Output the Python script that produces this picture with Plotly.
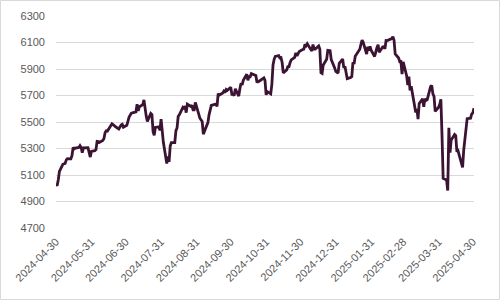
import plotly.graph_objects as go

dates = [
"2024-04-30",
"2024-05-01","2024-05-02","2024-05-03","2024-05-06","2024-05-07","2024-05-08","2024-05-09","2024-05-10","2024-05-13","2024-05-14","2024-05-15","2024-05-16","2024-05-17","2024-05-20","2024-05-21","2024-05-22","2024-05-23","2024-05-24","2024-05-28","2024-05-29","2024-05-30","2024-05-31",
"2024-06-03","2024-06-04","2024-06-05","2024-06-06","2024-06-07","2024-06-10","2024-06-11","2024-06-12","2024-06-13","2024-06-14","2024-06-17","2024-06-18","2024-06-20","2024-06-21","2024-06-24","2024-06-25","2024-06-26","2024-06-27","2024-06-28",
"2024-07-01","2024-07-02","2024-07-03","2024-07-05","2024-07-08","2024-07-09","2024-07-10","2024-07-11","2024-07-12","2024-07-15","2024-07-16","2024-07-17","2024-07-18","2024-07-19","2024-07-22","2024-07-23","2024-07-24","2024-07-25","2024-07-26","2024-07-29","2024-07-30","2024-07-31",
"2024-08-01","2024-08-02","2024-08-05","2024-08-06","2024-08-07","2024-08-08","2024-08-09","2024-08-12","2024-08-13","2024-08-14","2024-08-15","2024-08-16","2024-08-19","2024-08-20","2024-08-21","2024-08-22","2024-08-23","2024-08-26","2024-08-27","2024-08-28","2024-08-29","2024-08-30",
"2024-09-03","2024-09-04","2024-09-05","2024-09-06","2024-09-09","2024-09-10","2024-09-11","2024-09-12","2024-09-13","2024-09-16","2024-09-17","2024-09-18","2024-09-19","2024-09-20","2024-09-23","2024-09-24","2024-09-25","2024-09-26","2024-09-27","2024-09-30",
"2024-10-01","2024-10-02","2024-10-03","2024-10-04","2024-10-07","2024-10-08","2024-10-09","2024-10-10","2024-10-11","2024-10-14","2024-10-15","2024-10-16","2024-10-17","2024-10-18","2024-10-21","2024-10-22","2024-10-23","2024-10-24","2024-10-25","2024-10-28","2024-10-29","2024-10-30","2024-10-31",
"2024-11-01","2024-11-04","2024-11-05","2024-11-06","2024-11-07","2024-11-08","2024-11-11","2024-11-12","2024-11-13","2024-11-14","2024-11-15","2024-11-18","2024-11-19","2024-11-20","2024-11-21","2024-11-22","2024-11-25","2024-11-26","2024-11-27","2024-11-29",
"2024-12-02","2024-12-03","2024-12-04","2024-12-05","2024-12-06","2024-12-09","2024-12-10","2024-12-11","2024-12-12","2024-12-13","2024-12-16","2024-12-17","2024-12-18","2024-12-19","2024-12-20","2024-12-23","2024-12-24","2024-12-26","2024-12-27","2024-12-30","2024-12-31",
"2025-01-02","2025-01-03","2025-01-06","2025-01-07","2025-01-08","2025-01-10","2025-01-13","2025-01-14","2025-01-15","2025-01-16","2025-01-17","2025-01-21","2025-01-22","2025-01-23","2025-01-24","2025-01-27","2025-01-28","2025-01-29","2025-01-30","2025-01-31",
"2025-02-03","2025-02-04","2025-02-05","2025-02-06","2025-02-07","2025-02-10","2025-02-11","2025-02-12","2025-02-13","2025-02-14","2025-02-18","2025-02-19","2025-02-20","2025-02-21","2025-02-24","2025-02-25","2025-02-26","2025-02-27","2025-02-28",
"2025-03-03","2025-03-04","2025-03-05","2025-03-06","2025-03-07","2025-03-10","2025-03-11","2025-03-12","2025-03-13","2025-03-14","2025-03-17","2025-03-18","2025-03-19","2025-03-20","2025-03-21","2025-03-24","2025-03-25","2025-03-26","2025-03-27","2025-03-28","2025-03-31",
"2025-04-01","2025-04-02","2025-04-03","2025-04-04","2025-04-07","2025-04-08","2025-04-09","2025-04-10","2025-04-11","2025-04-14","2025-04-15","2025-04-16","2025-04-17","2025-04-21","2025-04-22","2025-04-23","2025-04-24","2025-04-25","2025-04-28","2025-04-29","2025-04-30",
"2025-05-01",
]

values = [
5035.69,
5018.39,5064.20,5127.79,5180.74,5187.70,5187.67,5214.08,5222.68,5221.42,5246.68,5308.15,5297.10,5303.27,5308.13,5321.41,5307.01,5267.84,5304.72,5306.04,5266.95,5235.48,5277.51,
5283.40,5291.34,5354.03,5352.96,5346.99,5360.79,5375.32,5421.03,5433.74,5431.60,5473.23,5487.03,5473.17,5464.62,5447.87,5469.30,5477.90,5482.87,5460.48,
5475.09,5509.01,5537.02,5567.19,5572.85,5576.98,5633.91,5584.54,5615.35,5631.22,5667.20,5588.27,5544.59,5505.00,5564.41,5555.74,5427.13,5399.22,5459.10,5463.54,5436.44,5522.30,
5446.68,5346.56,5186.33,5240.03,5199.50,5319.31,5344.16,5344.39,5434.43,5455.21,5543.22,5554.25,5608.25,5597.12,5620.85,5570.64,5634.61,5616.84,5625.80,5592.18,5591.96,5648.40,
5528.93,5520.07,5503.41,5408.42,5471.05,5495.52,5554.13,5595.76,5626.02,5633.09,5634.58,5618.26,5713.64,5702.55,5718.57,5732.93,5722.26,5745.37,5738.17,5762.48,
5708.75,5709.54,5699.94,5751.07,5695.94,5751.13,5792.04,5780.05,5815.03,5859.85,5815.26,5842.47,5841.47,5864.67,5853.98,5851.20,5797.42,5809.86,5808.12,5823.52,5832.92,5813.67,5705.45,
5728.80,5712.69,5782.76,5929.04,5973.10,5995.54,6001.35,5983.99,5985.38,5949.17,5870.62,5893.62,5916.98,5917.11,5948.71,5969.34,5987.37,6021.63,5998.74,6032.38,
6047.15,6049.88,6086.49,6075.11,6090.27,6052.85,6034.91,6084.19,6051.25,6051.09,6074.08,6050.61,5872.16,5867.08,5930.85,5974.07,6040.04,6037.59,5970.84,5906.94,5881.63,
5868.55,5942.47,5975.38,5909.03,5918.25,5827.04,5836.22,5842.91,5949.91,5937.34,5996.66,6049.24,6086.37,6118.71,6101.24,6012.28,6067.70,6039.31,6071.17,6040.53,
5994.57,6037.88,6061.48,6083.57,6025.99,6066.44,6068.50,6051.97,6115.07,6114.63,6129.58,6144.15,6117.52,6013.13,5983.25,5955.25,5956.06,5861.57,5954.50,
5849.72,5778.15,5842.63,5738.52,5770.20,5614.56,5572.07,5599.30,5521.52,5638.94,5675.12,5614.66,5675.29,5662.89,5667.56,5767.57,5776.65,5712.20,5693.31,5580.94,5611.85,
5633.07,5670.97,5396.52,5074.08,5062.25,4982.77,5456.90,5268.05,5363.36,5405.97,5396.63,5275.70,5282.70,5158.20,5287.76,5375.86,5484.77,5525.21,5528.75,5560.83,5569.06,
5604.14,
]

x_ticks = ["2024-04-30","2024-05-31","2024-06-30","2024-07-31","2024-08-31","2024-09-30",
           "2024-10-31","2024-11-30","2024-12-31","2025-01-31","2025-02-28","2025-03-31","2025-04-30"]
y_ticks = [4700, 4900, 5100, 5300, 5500, 5700, 5900, 6100, 6300]

font = dict(family="Liberation Sans, Arial, sans-serif", size=11, color="#595959")

fig = go.Figure()
fig.add_trace(go.Scatter(x=dates, y=values, mode="lines",
                         line=dict(color="#3b1434", width=2.8), hoverinfo="skip"))

fig.update_layout(
    width=500, height=300,
    margin=dict(l=56, r=26, t=16, b=72, autoexpand=False),
    paper_bgcolor="white", plot_bgcolor="white",
    showlegend=False, font=font,
)
fig.update_xaxes(type="date", range=["2024-04-30", "2025-05-01"],
                 tickvals=x_ticks, ticktext=x_ticks, tickangle=-45,
                 showgrid=False, zeroline=False, showline=False,
                 ticks="outside", ticklen=2, tickcolor="rgba(0,0,0,0)",
                 tickfont=font, automargin=False)
fig.update_yaxes(range=[4700, 6300], tickvals=y_ticks,
                 showgrid=True, gridcolor="#d9d9d9", gridwidth=1,
                 zeroline=False, showline=False, ticks="",
                 ticklabelstandoff=10, tickfont=font, automargin=False)

fig.add_shape(type="rect", xref="paper", yref="paper",
              x0=-55.5/418, x1=1 + 25.5/418,
              y0=-71.5/212, y1=1 + 15.5/212,
              line=dict(color="#d9d9d9", width=1), fillcolor="rgba(0,0,0,0)", layer="below")

fig.write_html("out.html", config={"displayModeBar": False, "staticPlot": True},
               post_script="document.body.style.margin='0';document.body.style.overflow='hidden';")
